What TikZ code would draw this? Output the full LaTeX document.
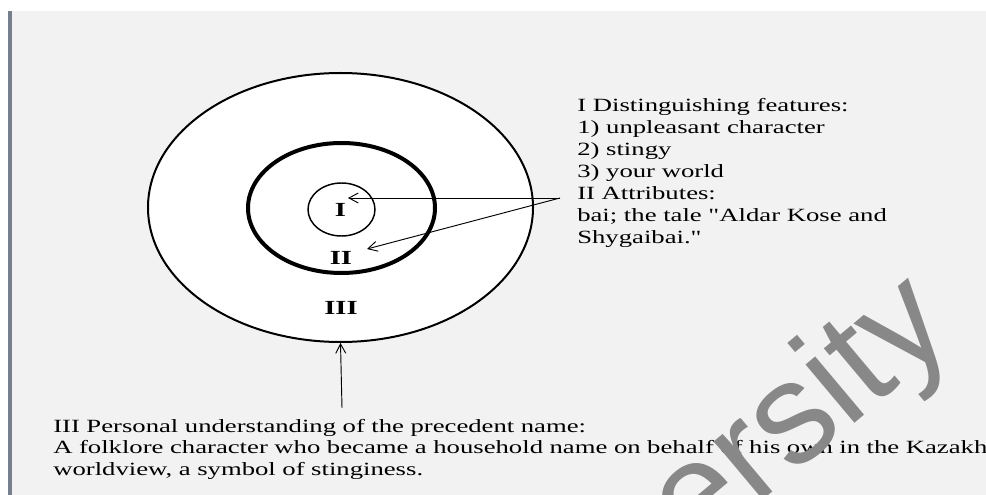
\documentclass[tikz,border=0pt]{standalone}
\usepackage{fontspec}
\setmainfont{Liberation Serif}[FakeStretch=1.43, Ligatures=TeXOff]
\newfontfamily\wmfont{Liberation Sans}
\usetikzlibrary{shapes.geometric,arrows.meta}
\definecolor{bggray}{RGB}{242,242,242}
\definecolor{edgeblue}{RGB}{118,128,140}
\definecolor{wmgray}{RGB}{136,136,136}
\newcommand\tightspacing{\spaceskip=4.9pt plus 1pt minus 1pt\relax}
\begin{document}
\begin{tikzpicture}[x=0.75pt,y=-0.75pt,
  ring/.style={draw=black, fill=white, ellipse, inner sep=0pt},
  roman/.style={font=\fontsize{15}{18}\selectfont\bfseries, inner sep=0pt},
  para/.style={font=\fontsize{14}{16.5}\selectfont, align=left, inner sep=0pt},
  pointer/.style={draw=black, line width=0.7pt, -{Straight Barb[length=7pt,width=7.5pt]}}]
\useasboundingbox (0,0) rectangle (986,495);
\fill[white] (0,0) rectangle (986,495);
\fill[bggray] (12,11) rectangle (986,495);
\draw[edgeblue, line width=3pt] (10,11) -- (10,495);

\node[ring, line width=1.5pt, minimum width=288.75pt, minimum height=201.75pt] (outer) at (340.5,207.5) {};
\node[ring, line width=3pt, minimum width=140.25pt, minimum height=97.5pt] (middle) at (341.5,208) {};
\node[ring, line width=1.1pt, minimum width=50.25pt, minimum height=39.75pt] (inner) at (341.5,209.5) {};

\node[roman] (lI) at (340.5,210) {I};
\node[roman] (lII) at (341,258) {II};
\node[roman] (lIII) at (341,307.5) {III};

\node[para, anchor=base west] (feat) at (577,244) {I Distinguishing features:\\1) unpleasant character\\2) stingy\\3) your world\\II Attributes:\\bai; the tale "Aldar Kose and\\Shygaibai."};

\coordinate (src) at (560,198);
\coordinate (tI) at (348,198);
\coordinate (tII) at (367,249);
\draw[pointer] (src) -- (tI);
\draw[pointer] (src) -- (tII);

\node[para, font=\fontsize{14}{16}\selectfont\tightspacing, anchor=base west] (pers) at (53,475) {III Personal understanding of the precedent name:\\A folklore character who became a household name on behalf of his own in the Kazakh\\worldview, a symbol of stinginess.};
\coordinate (ptail) at (342,408);
\draw[pointer] (ptail) -- (outer.south);

\begin{scope}
\clip (0,0) rectangle (986,495);
\node[font=\wmfont\fontsize{108}{108}\selectfont, text=wmgray, rotate=40, anchor=base west, inner sep=0pt] (wm) at (694,558) {ersity};
\end{scope}
\end{tikzpicture}
\end{document}
